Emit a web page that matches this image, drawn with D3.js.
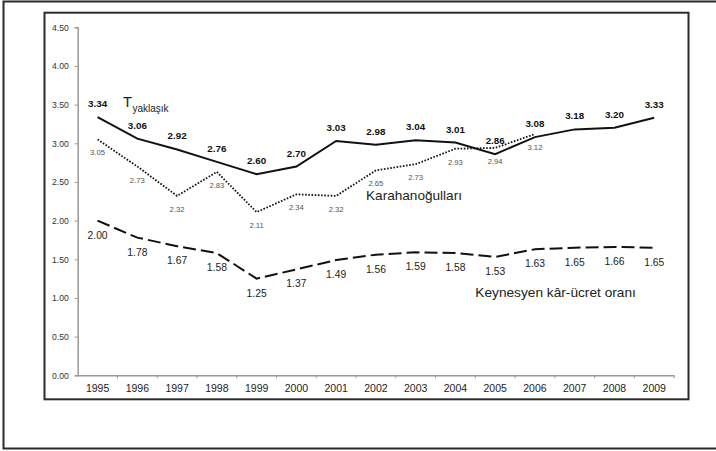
<!DOCTYPE html>
<html>
<head>
<meta charset="utf-8">
<script src="https://cdn.jsdelivr.net/npm/d3@7"></script>
<style>
  body { margin: 0; background: #fff; overflow: hidden; }
  svg { display: block; font-family: "Liberation Sans", Arial, sans-serif; }
</style>
</head>
<body>
<div id="chart"></div>
<script>
// data
const years = ["1995","1996","1997","1998","1999","2000","2001","2002","2003","2004","2005","2006","2007","2008","2009"];
const tValues = [3.34, 3.06, 2.92, 2.76, 2.60, 2.70, 3.03, 2.98, 3.04, 3.01, 2.86, 3.08, 3.18, 3.20, 3.33];
const karaValues = [3.05, 2.70, 2.32, 2.63, 2.11, 2.34, 2.32, 2.65, 2.73, 2.93, 2.94, 3.12, null, null, null];
const karaLabels = ["3.05","2.73","2.32","2.83","2.11","2.34","2.32","2.65","2.73","2.93","2.94","3.12"];
const keynesValues = [2.00, 1.78, 1.67, 1.58, 1.25, 1.37, 1.49, 1.56, 1.59, 1.58, 1.53, 1.63, 1.65, 1.66, 1.65];
const yTicks = [0, 0.5, 1, 1.5, 2, 2.5, 3, 3.5, 4, 4.5];

const W = 716, H = 451;
const svg = d3.select("#chart").append("svg")
    .attr("width", W)
    .attr("height", H);

// outer and inner frames
svg.append("rect")
    .attr("x", 3.5).attr("y", 1.5)
    .attr("width", 730).attr("height", 447)
    .attr("fill", "none").attr("stroke", "#2b2b2b").attr("stroke-width", 2);
svg.append("rect")
    .attr("x", 44.5).attr("y", 12.7)
    .attr("width", 644).attr("height", 386.6)
    .attr("fill", "none").attr("stroke", "#2b2b2b").attr("stroke-width", 2);

// scales
const x = d3.scaleBand().domain(years).range([77.7, 674.1]);
const y = d3.scaleLinear().domain([0, 4.5]).range([375.3, 27.3]);
const cx = d => x(d) + x.bandwidth() / 2;

// y axis
const yAxis = svg.append("g")
    .attr("transform", "translate(77.7,0)")
    .call(d3.axisLeft(y).tickValues(yTicks).tickFormat(d3.format(".2f")).tickSize(3).tickPadding(6));
yAxis.select(".domain").attr("stroke", "#9a9a9a").attr("stroke-width", 1.5);
yAxis.selectAll(".tick line").attr("stroke", "#9a9a9a");
yAxis.selectAll("text").attr("font-size", "8.6px").attr("fill", "#333").attr("font-family", "Liberation Sans, Arial, sans-serif");

// x axis, ticks between categories
const xAxis = svg.append("g")
    .attr("transform", "translate(0,375.3)")
    .call(d3.axisBottom(x).tickSize(0).tickPadding(9));
xAxis.select(".domain").attr("stroke", "#9a9a9a").attr("stroke-width", 1.5);
xAxis.selectAll("text").attr("font-size", "10.5px").attr("fill", "#222").attr("font-family", "Liberation Sans, Arial, sans-serif");
xAxis.selectAll(".sep")
    .data(years.slice(1).concat(["end"]))
    .join("line")
    .attr("class", "sep")
    .attr("x1", (d, i) => x(years[0]) + (i + 1) * x.bandwidth())
    .attr("x2", (d, i) => x(years[0]) + (i + 1) * x.bandwidth())
    .attr("y1", 0).attr("y2", 3)
    .attr("stroke", "#9a9a9a");

// lines
const line = d3.line()
    .defined(d => d[1] != null)
    .x(d => cx(d[0]))
    .y(d => y(d[1]));

svg.append("path")
    .datum(years.map((d, i) => [d, keynesValues[i]]))
    .attr("fill", "none").attr("stroke", "#111").attr("stroke-width", 2)
    .attr("stroke-dasharray", "13,5")
    .attr("d", line);

svg.append("path")
    .datum(years.map((d, i) => [d, karaValues[i]]))
    .attr("fill", "none").attr("stroke", "#111").attr("stroke-width", 1.8)
    .attr("stroke-dasharray", "1.6,1.6")
    .attr("d", line);

svg.append("path")
    .datum(years.map((d, i) => [d, tValues[i]]))
    .attr("fill", "none").attr("stroke", "#111").attr("stroke-width", 2)
    .attr("d", line);

// data labels
svg.selectAll(".tlab")
    .data(tValues)
    .join("text")
    .attr("class", "tlab")
    .attr("x", (d, i) => cx(years[i]))
    .attr("y", d => y(d) - 10)
    .attr("text-anchor", "middle")
    .attr("font-size", "9.8px").attr("font-weight", "bold").attr("fill", "#111")
    .text(d => d.toFixed(2));

svg.selectAll(".klab")
    .data(karaLabels)
    .join("text")
    .attr("class", "klab")
    .attr("x", (d, i) => cx(years[i]))
    .attr("y", (d, i) => y(karaValues[i]) + 16)
    .attr("text-anchor", "middle")
    .attr("font-size", "7.7px").attr("fill", "#555")
    .text(d => d);

svg.selectAll(".nlab")
    .data(keynesValues)
    .join("text")
    .attr("class", "nlab")
    .attr("x", (d, i) => cx(years[i]))
    .attr("y", d => y(d) + 18)
    .attr("text-anchor", "middle")
    .attr("font-size", "10.3px").attr("fill", "#222")
    .text(d => d.toFixed(2));

// series names
const tName = svg.append("text")
    .attr("x", 123).attr("y", 107.3)
    .attr("fill", "#222");
tName.append("tspan").attr("font-size", "14.7px").text("T");
tName.append("tspan").attr("font-size", "10px").attr("dy", 4.5).attr("dx", 0.5).text("yaklaşık");

svg.append("text")
    .attr("x", 366).attr("y", 199.5)
    .attr("font-size", "13.6px").attr("fill", "#222")
    .text("Karahanoğulları");

svg.append("text")
    .attr("x", 475.3).attr("y", 297.3)
    .attr("font-size", "13.7px").attr("fill", "#222")
    .text("Keynesyen kâr-ücret oranı");
</script>
</body>
</html>
